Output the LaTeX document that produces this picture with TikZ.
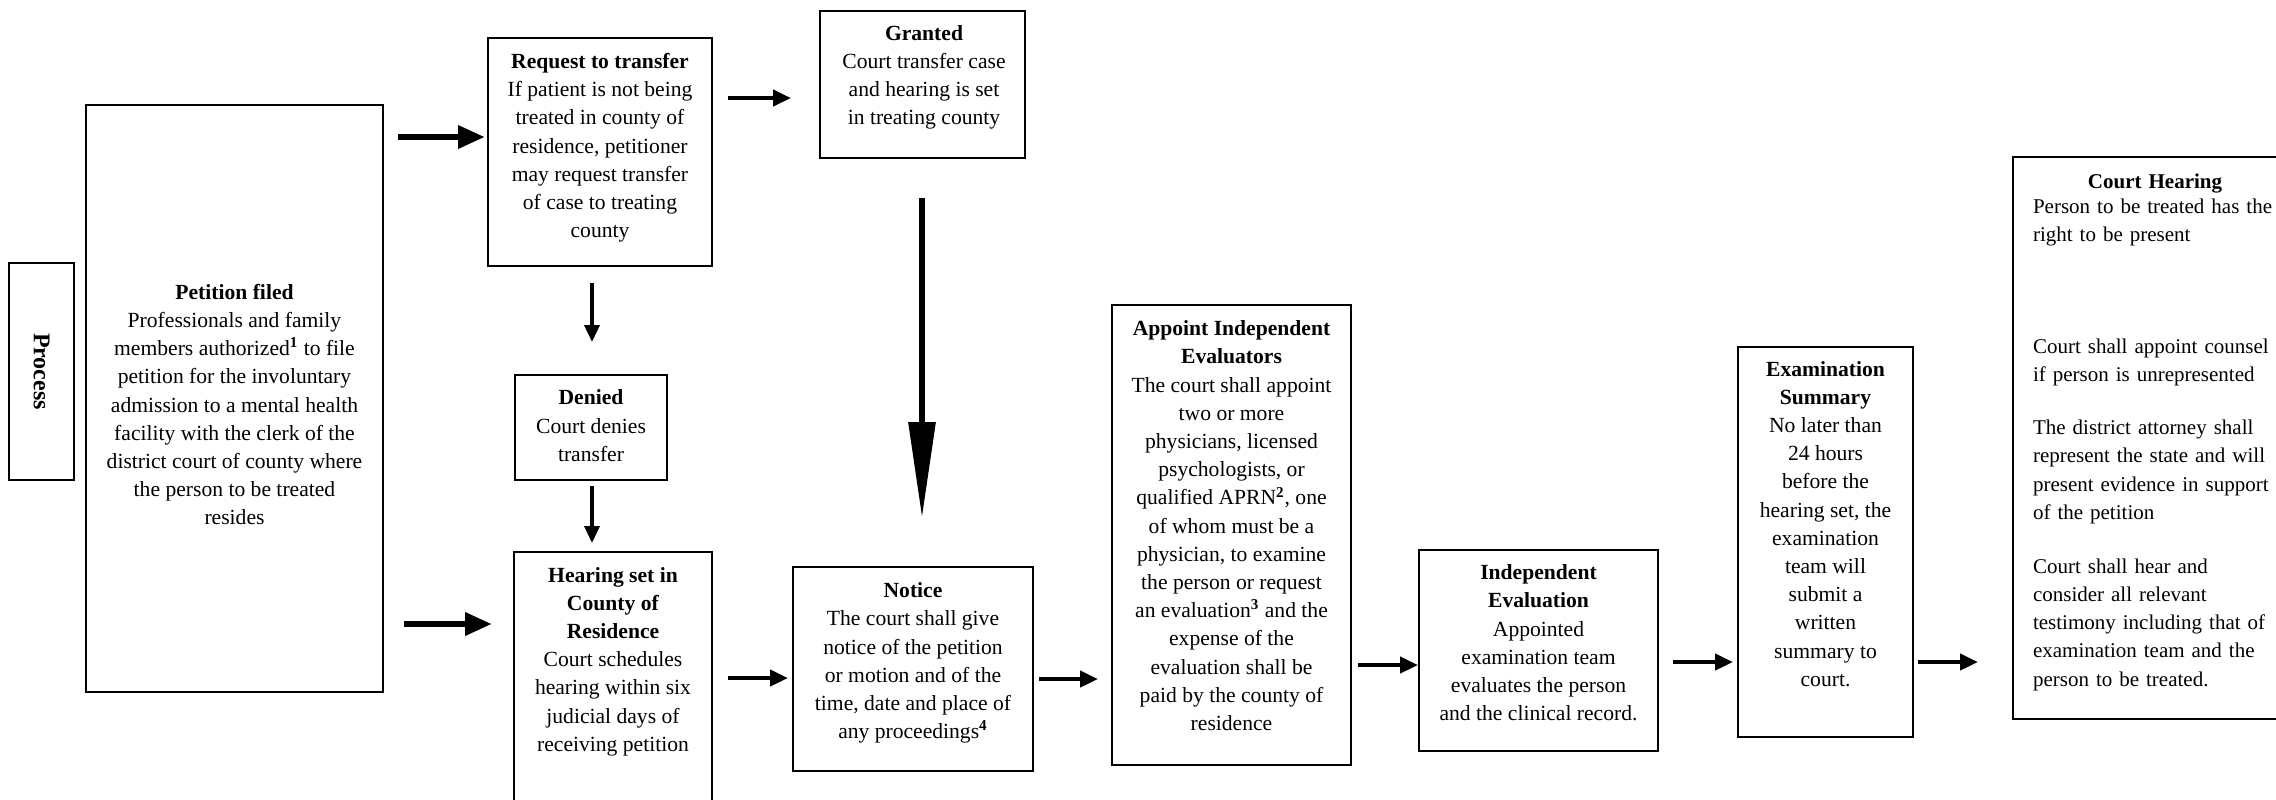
\documentclass[tikz,border=0pt]{standalone}
\usepackage{fontspec}
\setmainfont{Liberation Serif}
\usetikzlibrary{arrows.meta,fit}
\begin{document}
\begin{tikzpicture}[x=0.5pt,y=-0.5pt,
  box/.style={draw=black, line width=0.8pt, inner sep=0pt, outer sep=0pt},
  txt/.style={font=\fontsize{10.8}{14.1}\selectfont, align=center, inner sep=0pt},
  arrA/.style={line width=3.2pt, -{Triangle[length=13.5pt,width=11pt]}},
  arrB/.style={line width=2.2pt, -{Triangle[length=9pt,width=8pt]}},
  arrC/.style={line width=1.8pt, -{Triangle[length=8.5pt,width=7.5pt]}},
  arrD/.style={line width=3pt, -{Triangle[length=48pt,width=13pt]}}]
\fill[white] (0,0) rectangle (2276,799);
\useasboundingbox (0,0) rectangle (2276,799);

% boxes
\node[box, fit={(9,263)(74,480)}] (proc) {};
\node[box, fit={(86,105)(383,692)}] (pet) {};
\node[box, fit={(488,38)(712,266)}] (req) {};
\node[box, fit={(820,11)(1025,158)}] (gra) {};
\node[box, fit={(515,375)(667,480)}] (den) {};
\node[box, fit={(514,552)(712,830)}] (hear) {};
\node[box, fit={(793,567)(1033,771)}] (not) {};
\node[box, fit={(1112,305)(1351,765)}] (app) {};
\node[box, fit={(1419,550)(1658,751)}] (ind) {};
\node[box, fit={(1738,347)(1913,737)}] (exa) {};
\node[box, fit={(2013,157)(2300,719)}] (crt) {};

% texts
\node[txt, rotate=-90, font=\fontsize{12}{14}\selectfont\bfseries] (procT) at (41.5,371.5) {Process};
\node[txt] (petT) at (234.5,406.5) {\strut\textbf{Petition filed}\\Professionals and family\\members authorized\textsuperscript{\textbf{1}} to file\\petition for the involuntary\\admission to a mental health\\facility with the clerk of the\\district court of county where\\the person to be treated\\resides\strut};
\node[txt] (reqT) at (600,147.5) {\strut\textbf{Request to transfer}\\If patient is not being\\treated in county of\\residence, petitioner\\may request transfer\\of case to treating\\county\strut};
\node[txt] (graT) at (924,77) {\strut\textbf{Granted}\\Court transfer case\\and hearing is set\\in treating county\strut};
\node[txt] (denT) at (591,427.5) {\strut\textbf{Denied}\\Court denies\\transfer\strut};
\node[txt] (hearT) at (613,661) {\strut\textbf{Hearing set in}\\\textbf{County of}\\\textbf{Residence}\\Court schedules\\hearing within six\\judicial days of\\receiving petition\strut};
\node[txt] (notT) at (913,662.5) {\strut\textbf{Notice}\\The court shall give\\notice of the petition\\or motion and of the\\time, date and place of\\any proceedings\textsuperscript{\textbf{4}}\strut};
\node[txt] (appT) at (1231.5,527.5) {\strut\textbf{Appoint Independent}\\\textbf{Evaluators}\\The court shall appoint\\two or more\\physicians, licensed\\psychologists, or\\qualified APRN\textsuperscript{\textbf{2}}, one\\of whom must be a\\physician, to examine\\the person or request\\an evaluation\textsuperscript{\textbf{3}} and the\\expense of the\\evaluation shall be\\paid by the county of\\residence\strut};
\node[txt] (indT) at (1538.5,644.5) {\strut\textbf{Independent}\\\textbf{Evaluation}\\Appointed\\examination team\\evaluates the person\\and the clinical record.\strut};
\node[txt] (exaT) at (1825.5,525.5) {\strut\textbf{Examination}\\\textbf{Summary}\\No later than\\24 hours\\before the\\hearing set, the\\examination\\team will\\submit a\\written\\summary to\\court.\strut};
\node[txt, font=\fontsize{10.5}{14.1}\selectfont, align=left, text width=122pt] (crtT) at (2155,431.5) {\strut\makebox[\linewidth][c]{\textbf{Court Hearing}}\\[-1.5pt]Person to be treated has the\\right to be present\\[41.9pt]Court shall appoint counsel\\if person is unrepresented\\[12.4pt]The district attorney shall\\represent the state and will\\present evidence in support\\of the petition\\[12.9pt]Court shall hear and\\consider all relevant\\testimony including that of\\examination team and the\\person to be treated.\strut};

% connectors
\draw[arrA, shorten <=7.5pt, shorten >=1.5pt] (pet.east |- 0,137) -- (req.west |- 0,137);
\draw[arrA, shorten <=10.5pt, shorten >=11pt] (pet.east |- 0,624) -- (hear.west |- 0,624);
\draw[arrB, shorten <=8pt, shorten >=14.5pt] (req.east |- 0,98) -- (gra.west |- 0,98);
\draw[arrC, shorten <=8.5pt, shorten >=16.5pt] (592,0 |- req.south) -- (592,0 |- den.north);
\draw[arrC, shorten <=3pt, shorten >=4.5pt] (592,0 |- den.south) -- (592,0 |- hear.north);
\draw[arrD, shorten <=20pt, shorten >=24.5pt] (922,0 |- gra.south) -- (922,0 |- not.north);
\draw[arrB, shorten <=8pt, shorten >=2.5pt] (hear.east |- 0,678) -- (not.west |- 0,678);
\draw[arrB, shorten <=3pt, shorten >=7pt] (not.east |- 0,679) -- (app.west |- 0,679);
\draw[arrB, shorten <=3.5pt, shorten >=0.5pt] (app.east |- 0,665) -- (ind.west |- 0,665);
\draw[arrB, shorten <=7.5pt, shorten >=2.5pt] (ind.east |- 0,662) -- (exa.west |- 0,662);
\draw[arrB, shorten <=2.5pt, shorten >=17.5pt] (exa.east |- 0,662) -- (crt.west |- 0,662);
\end{tikzpicture}
\end{document}
